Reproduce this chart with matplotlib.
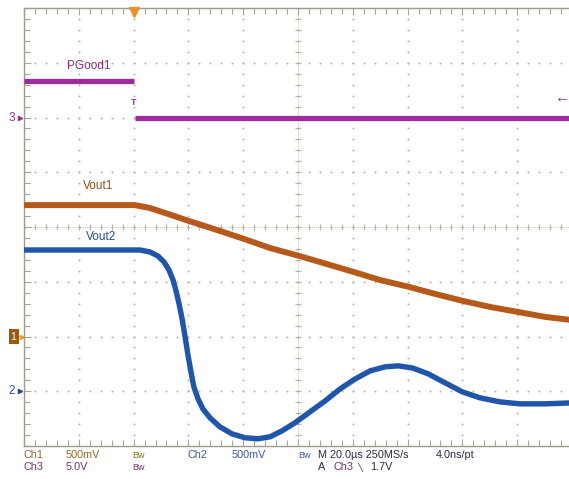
import numpy as np
import matplotlib
matplotlib.use("Agg")
import matplotlib.pyplot as plt

plt.rcParams['font.family'] = ['Liberation Sans', 'DejaVu Sans']

# time in us (trigger at 0), voltages in V
t_pgood_hi = [-40, 0]
v_pgood_hi = [3.3, 3.3]
t_pgood_lo = [0.4, 160]
v_pgood_lo = [0.0, 0.0]

t_vout1 = [-40, 0.5, 6.0, 11.5, 20.2, 31.5, 40.3, 49.8, 60.4, 71.7, 80.4, 89.9, 100.5,
           110.0, 120.2, 130.1, 140.3, 150.2, 160]
v_vout1 = [1.20, 1.20, 1.173, 1.128, 1.055, 0.964, 0.891, 0.808, 0.736, 0.653, 0.589, 0.516,
           0.453, 0.389, 0.325, 0.270, 0.224, 0.179, 0.150]

t_vout2 = [-40, 2.3, 6.0, 8.9, 11.1, 12.9, 14.4, 15.5, 16.6, 17.7, 18.8, 19.9, 21.0, 22.0,
           23.5, 25.3, 27.9, 31.5, 35.9, 40.7, 45.4, 49.8, 54.2, 58.9, 64.4, 69.9, 75.4,
           80.9, 86.3, 91.8, 96.6, 101.7, 107.5, 113.7, 119.9, 126.4, 133.7, 141.0, 150.2, 160]
v_vout2 = [1.29, 1.29, 1.272, 1.235, 1.181, 1.108, 1.016, 0.916, 0.797, 0.661, 0.496, 0.323,
           0.168, 0.040, -0.069, -0.161, -0.243, -0.325, -0.389, -0.425, -0.434, -0.416,
           -0.361, -0.288, -0.188, -0.088, 0.022, 0.113, 0.186, 0.223, 0.232, 0.213, 0.159,
           0.077, -0.005, -0.060, -0.097, -0.115, -0.115, -0.106]

# channel settings: volts/div and ground position (div)
ch1_scale, ch1_pos = 0.5, -2
ch2_scale, ch2_pos = 0.5, -3
ch3_scale, ch3_pos = 5.0, 2

purple = '#9c2c9c'
brown = '#b65a1c'
blue = '#1f56aa'
gridc = '#b4b4a0'

W, H = 569, 479
fig = plt.figure(figsize=(W / 100, H / 100), dpi=100)
ax = fig.add_axes([24 / W, 33 / H, 548 / W, 438 / H])
ax.set_xlim(-40, 160)
ax.set_ylim(-4, 4)

# graticule
xmaj = np.arange(-40, 161, 20)
ymaj = np.arange(-4, 5, 1)
xmin = np.arange(-40, 160.1, 4)
ymin = np.arange(-4, 4.01, 0.2)
for x in xmaj[1:]:
    ax.scatter(np.full(len(ymin), x), ymin, s=2.0, color=gridc, lw=0, zorder=1)
for y in ymaj[1:-1]:
    ax.scatter(xmin, np.full(len(xmin), y), s=2.0, color=gridc, lw=0, zorder=1)
ax.plot(np.full(len(ymin), 60), ymin, '_', ms=5, color=gridc, mew=0.8, zorder=1)
ax.plot(xmin, np.zeros(len(xmin)), '|', ms=5, color=gridc, mew=0.8, zorder=1)
ax.axvline(60, color=gridc, lw=0.6, ls=(0, (1, 1.5)), zorder=1)
ax.axhline(0, color=gridc, lw=0.6, ls=(0, (1, 1.5)), zorder=1)

ax.set_xticks(xmaj)
ax.set_yticks(ymaj)
ax.set_xticks(xmin, minor=True)
ax.set_yticks(ymin, minor=True)
ax.tick_params(which='both', direction='in', top=True, bottom=True, left=True, right=False,
               labelbottom=False, labelleft=False, color='#a8a898', width=0.8)
ax.tick_params(which='major', length=5)
ax.tick_params(which='minor', length=4)
for s in ax.spines.values():
    s.set_color('#9c9c8c')
    s.set_linewidth(1)
ax.spines['right'].set_visible(False)

# traces
ax.plot(t_pgood_hi, np.array(v_pgood_hi) / ch3_scale + ch3_pos, color=purple, lw=3.8,
        solid_capstyle='butt', zorder=3)
ax.plot(t_pgood_lo, np.array(v_pgood_lo) / ch3_scale + ch3_pos, color=purple, lw=3.8,
        solid_capstyle='butt', zorder=3)
ax.plot(t_vout1, np.array(v_vout1) / ch1_scale + ch1_pos, color=brown, lw=4.3,
        solid_capstyle='butt', solid_joinstyle='round', zorder=3)
ax.plot(t_vout2, np.array(v_vout2) / ch2_scale + ch2_pos, color=blue, lw=3.9,
        solid_capstyle='butt', solid_joinstyle='round', zorder=3)

# trace labels
ax.text(-16.3, 2.94, 'PGood1', color='#8a2a80', fontsize=8.5, ha='center', va='center')
ax.text(-13, 0.75, 'Vout1', color='#8a5010', fontsize=8.5, ha='center', va='center')
ax.text(-11.9, -0.18, 'Vout2', color='#1f4f99', fontsize=8.5, ha='center', va='center')

# markers
ax.text(0, 2.27, 'T', color=purple, fontsize=6.5, fontweight='bold', ha='center', va='center')
ax.text(156.5, 2.36, '\u2190', color='#7a2a80', fontsize=11, ha='center', va='center')
ax.plot([0], [3.93], 'v', color='#e8902c', ms=7, clip_on=False, zorder=4)

yt = ax.get_yaxis_transform()
ax.text(-0.022, 2, '3', transform=yt, color='#a03090', fontsize=8.5, ha='center', va='center')
ax.plot([-0.008], [2], '>', transform=yt, color='#a03090', ms=3, clip_on=False)
ax.text(-0.019, -2, '1', transform=yt, color='white', fontsize=7.5, ha='center', va='center',
        bbox=dict(boxstyle='square,pad=0.2', fc='#9a5a10', ec='none'))
ax.plot([-0.004], [-2], '>', transform=yt, color='#e0a040', ms=3, clip_on=False)
ax.text(-0.022, -3, '2', transform=yt, color='#2a4a90', fontsize=8.5, ha='center', va='center')
ax.plot([-0.008], [-3], '>', transform=yt, color='#2a4a90', ms=3, clip_on=False)


def ftext(x, y, s, c, fs=7.8):
    fig.text(x / W, 1 - y / H, s, color=c, fontsize=fs, ha='left', va='center')


c1 = '#8a6a24'
c2 = '#3a5aa0'
c3 = '#7a3070'
dk = '#2a2a4a'
ftext(24, 455, 'Ch1', c1)
ftext(66, 455, '500mV', c1)
ftext(132, 455, 'Bw', c1, 6.5)
ftext(188, 455, 'Ch2', c2)
ftext(232, 455, '500mV', c2)
ftext(298, 455, 'Bw', c2, 6.5)
ftext(318, 455, 'M 20.0\u00b5s 250MS/s', dk)
ftext(436, 455, '4.0ns/pt', dk)
ftext(24, 467, 'Ch3', c3)
ftext(66, 467, '5.0V', c3)
ftext(132, 467, 'Bw', c3, 6.5)
ftext(318, 467, 'A', dk)
ftext(333, 467, 'Ch3', c3)
ftext(357, 467, '\u2572', dk, 6)
ftext(370, 467, '1.7V', dk)

fig.savefig('out.png', dpi=100)
